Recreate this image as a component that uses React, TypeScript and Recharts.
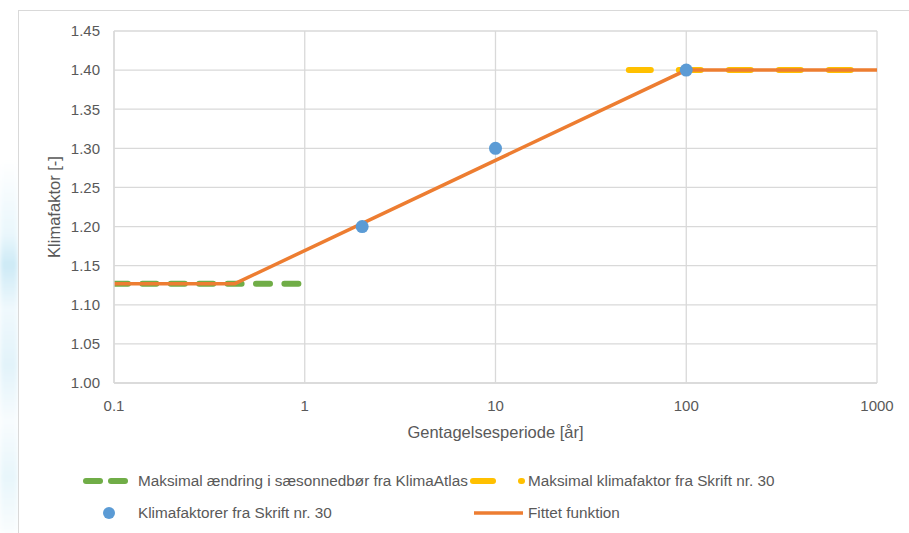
import React from "react";
import {
  ComposedChart,
  Line,
  Scatter,
  XAxis,
  YAxis,
  CartesianGrid,
  Label,
} from "recharts";

// tick values
const xTicks = [0.1, 1, 10, 100, 1000];
const yTicks = [1.0, 1.05, 1.1, 1.15, 1.2, 1.25, 1.3, 1.35, 1.4, 1.45];

// Maksimal ændring i sæsonnedbør fra KlimaAtlas
const atlasX = [0.1, 1];
const atlasY = [1.127, 1.127];

// Maksimal klimafaktor fra Skrift nr. 30
const skriftMaxX = [50, 1000];
const skriftMaxY = [1.4, 1.4];

// Klimafaktorer fra Skrift nr. 30
const skriftX = [2, 10, 100];
const skriftY = [1.2, 1.3, 1.4];

// Fittet funktion
const fitX = [0.1, 0.43, 100, 1000];
const fitY = [1.127, 1.127, 1.4, 1.4];

const toPoints = (xs: number[], ys: number[]) =>
  xs.map((x, i) => ({ x, y: ys[i] }));

const GREEN = "#70ad47";
const YELLOW = "#ffc000";
const BLUE = "#5b9bd5";
const ORANGE = "#ed7d31";
const GRID = "#d9d9d9";
const TEXT = "#595959";
const FONT = "'Liberation Sans', Arial, sans-serif";

const tickStyle = { fill: TEXT, fontSize: 15, fontFamily: FONT };

const LegendRow: React.FC<{ top: number; left: number; icon: React.ReactNode; label: string }> = ({
  top,
  left,
  icon,
  label,
}) => (
  <div
    style={{
      position: "absolute",
      top: top - 10,
      left,
      height: 20,
      display: "flex",
      alignItems: "center",
      color: TEXT,
      fontSize: 15.3,
      fontFamily: FONT,
      whiteSpace: "nowrap",
    }}
  >
    {icon}
    <span>{label}</span>
  </div>
);

export default function App() {
  return (
    <div
      style={{
        position: "absolute",
        left: 0,
        top: 0,
        width: 909,
        height: 533,
        background: "#fff",
        overflow: "hidden",
      }}
    >
      {/* faint background image on the far left */}
      <div
        style={{
          position: "absolute",
          left: 0,
          top: 160,
          width: 18,
          height: 373,
          background:
            "linear-gradient(180deg, #ffffff 0%, #eaf7fc 20%, #cdeaf6 28%, #f0f9fd 40%, #e2f3fa 55%, #f8fcfe 70%, #e8f6fb 85%, #fafdfe 100%)",
          filter: "blur(2px)",
        }}
      />
      <div
        style={{
          position: "absolute",
          left: 18,
          top: 10,
          width: 909,
          height: 600,
          borderLeft: `1px solid ${GRID}`,
          borderTop: `1px solid ${GRID}`,
          background: "#fff",
        }}
      />
      <div style={{ position: "absolute", left: 0, top: 0 }}>
        <ComposedChart
          width={909}
          height={533}
          margin={{ top: 31, right: 32, left: 54, bottom: 110 }}
        >
          <CartesianGrid stroke={GRID} strokeWidth={1.3} />
          <XAxis
            type="number"
            dataKey="x"
            scale="log"
            domain={[0.1, 1000]}
            ticks={xTicks}
            allowDataOverflow
            height={40}
            tickSize={0}
            tickMargin={17}
            axisLine={{ stroke: GRID, strokeWidth: 1.3 }}
            tick={tickStyle}
          >
            <Label
              content={({ viewBox }: any) => (
                <text
                  x={viewBox.x + viewBox.width / 2}
                  y={438}
                  textAnchor="middle"
                  fill={TEXT}
                  fontSize={16.5}
                  fontFamily={FONT}
                >
                  Gentagelsesperiode [år]
                </text>
              )}
            />
          </XAxis>
          <YAxis
            type="number"
            dataKey="y"
            domain={[1, 1.45]}
            ticks={yTicks}
            width={60}
            tickSize={0}
            tickMargin={14}
            axisLine={{ stroke: GRID, strokeWidth: 1.3 }}
            tick={tickStyle}
            tickFormatter={(v: number) => v.toFixed(2)}
          >
            <Label
              content={({ viewBox }: any) => {
                const cy = viewBox.y + viewBox.height / 2;
                return (
                  <text
                    x={59.5}
                    y={cy}
                    transform={`rotate(-90, 59.5, ${cy})`}
                    textAnchor="middle"
                    fill={TEXT}
                    fontSize={16.5}
                    fontFamily={FONT}
                  >
                    Klimafaktor [-]
                  </text>
                );
              }}
            />
          </YAxis>
          <Line
            data={toPoints(atlasX, atlasY)}
            dataKey="y"
            stroke={GREEN}
            strokeWidth={6}
            strokeDasharray="14 14.4"
            strokeLinecap="round"
            dot={false}
            activeDot={false}
            isAnimationActive={false}
          />
          <Line
            data={toPoints(skriftMaxX, skriftMaxY)}
            dataKey="y"
            stroke={YELLOW}
            strokeWidth={6}
            strokeDasharray="22 28"
            strokeLinecap="round"
            dot={false}
            activeDot={false}
            isAnimationActive={false}
          />
          <Line
            data={toPoints(fitX, fitY)}
            dataKey="y"
            stroke={ORANGE}
            strokeWidth={3.5}
            dot={false}
            activeDot={false}
            isAnimationActive={false}
          />
          <Scatter
            data={toPoints(skriftX, skriftY)}
            dataKey="y"
            fill={BLUE}
            shape={(p: any) => <circle cx={p.cx} cy={p.cy} r={6.5} fill={BLUE} />}
            isAnimationActive={false}
          />
        </ComposedChart>
      </div>
      <LegendRow
        top={481}
        left={83}
        label="Maksimal ændring i sæsonnedbør fra KlimaAtlas"
        icon={
          <svg width={55} height={12} style={{ flex: "none" }}>
            <line x1={3} y1={6} x2={17} y2={6} stroke={GREEN} strokeWidth={6} strokeLinecap="round" />
            <line x1={28} y1={6} x2={42} y2={6} stroke={GREEN} strokeWidth={6} strokeLinecap="round" />
          </svg>
        }
      />
      <LegendRow
        top={481}
        left={470}
        label="Maksimal klimafaktor fra Skrift nr. 30"
        icon={
          <svg width={58} height={12} style={{ flex: "none" }}>
            <line x1={3} y1={6} x2={23} y2={6} stroke={YELLOW} strokeWidth={6} strokeLinecap="round" />
            <line x1={51} y1={6} x2={52} y2={6} stroke={YELLOW} strokeWidth={6} strokeLinecap="round" />
          </svg>
        }
      />
      <LegendRow
        top={513}
        left={83}
        label="Klimafaktorer fra Skrift nr. 30"
        icon={
          <svg width={55} height={14} style={{ flex: "none" }}>
            <circle cx={26} cy={7} r={6} fill={BLUE} />
          </svg>
        }
      />
      <LegendRow
        top={513}
        left={470}
        label="Fittet funktion"
        icon={
          <svg width={58} height={12} style={{ flex: "none" }}>
            <line x1={4} y1={6} x2={53} y2={6} stroke={ORANGE} strokeWidth={3.5} />
          </svg>
        }
      />
    </div>
  );
}
